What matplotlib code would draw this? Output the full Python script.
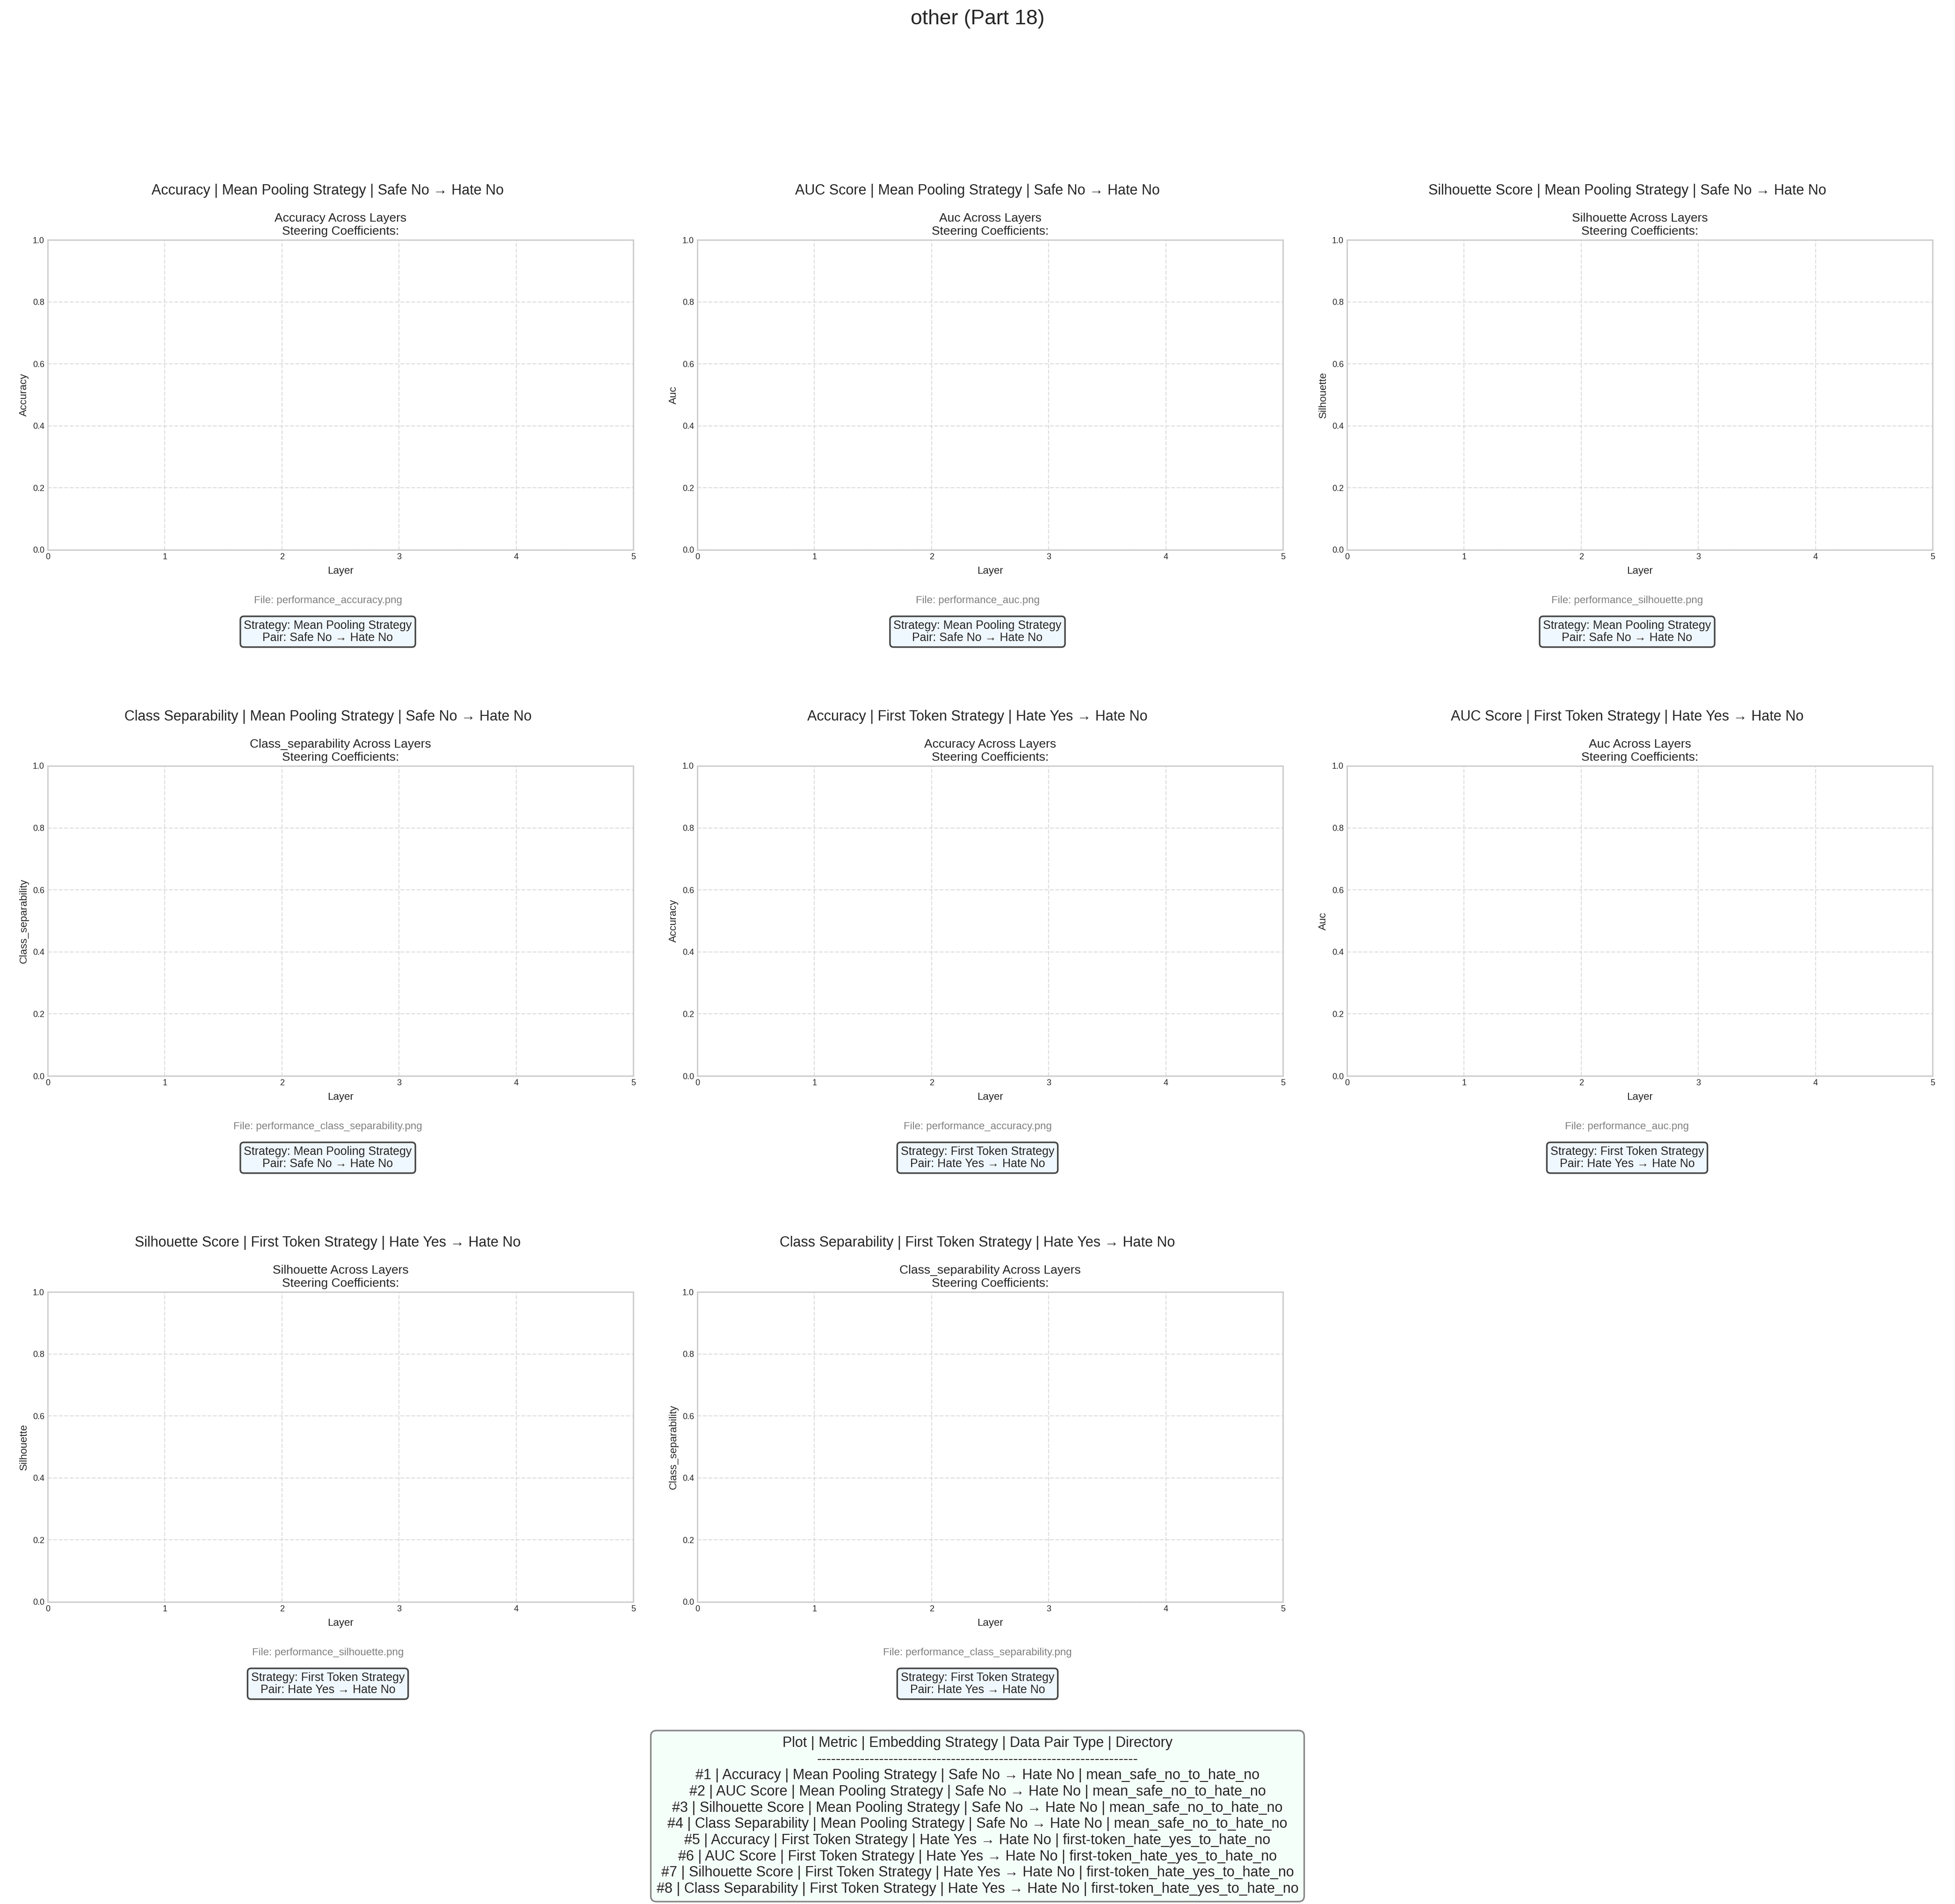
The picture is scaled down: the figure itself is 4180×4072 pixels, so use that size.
import matplotlib.pyplot as plt

plt.rcParams["font.family"] = ["Liberation Sans", "DejaVu Sans"]
plt.rcParams["text.color"] = "#262626"
plt.rcParams["axes.labelcolor"] = "#262626"
plt.rcParams["xtick.color"] = "#262626"
plt.rcParams["ytick.color"] = "#262626"

# panel content, in plot order
metric_names = ["Accuracy", "AUC Score", "Silhouette Score", "Class Separability",
                "Accuracy", "AUC Score", "Silhouette Score", "Class Separability"]
metric_keys = ["accuracy", "auc", "silhouette", "class_separability",
               "accuracy", "auc", "silhouette", "class_separability"]
strategies = ["Mean Pooling Strategy"] * 4 + ["First Token Strategy"] * 4
pairs = ["Safe No \u2192 Hate No"] * 4 + ["Hate Yes \u2192 Hate No"] * 4
directories = ["mean_safe_no_to_hate_no"] * 4 + ["first-token_hate_yes_to_hate_no"] * 4

layer_ticks = [0, 1, 2, 3, 4, 5]
y_ticks = [0.0, 0.2, 0.4, 0.6, 0.8, 1.0]

W, H = 4180, 4072
fig = plt.figure(figsize=(W / 200, H / 200), dpi=200)

col_left = [102, 1491, 2880]
row_top = [513, 1638, 2763]
ax_w, ax_h = 1252, 663

fig.text(0.5, 1 - 52 / H, "other (Part 18)", ha="center", va="baseline", fontsize=16)

for i in range(len(metric_names)):
    r, c = divmod(i, 3)
    left = col_left[c]
    top = row_top[r]
    ax = fig.add_axes([left / W, 1 - (top + ax_h) / H, ax_w / W, ax_h / H])
    key = metric_keys[i]
    label = key.capitalize()
    ax.set_xlim(layer_ticks[0], layer_ticks[-1])
    ax.set_ylim(y_ticks[0], y_ticks[-1])
    ax.set_xticks(layer_ticks)
    ax.set_yticks(y_ticks)
    ax.tick_params(length=0, pad=2.5, labelsize=6.5)
    ax.grid(True, color="#d6d6d6", linestyle="--", linewidth=0.8, alpha=0.8)
    for sp in ax.spines.values():
        sp.set_color("#cccccc")
        sp.set_linewidth(1.0)
    ax.set_xlabel("Layer", fontsize=8, labelpad=4)
    ax.set_ylabel(label, fontsize=8, labelpad=3)
    ax.set_title(f"{label} Across Layers\nSteering Coefficients:", fontsize=9.5, pad=4)

    cx = (left + ax_w / 2 - 27) / W
    fig.text(cx, 1 - (top - 97) / H,
             f"{metric_names[i]} | {strategies[i]} | {pairs[i]}",
             ha="center", va="baseline", fontsize=11)
    fig.text(cx, 1 - (top + 777) / H, f"File: performance_{key}.png",
             ha="center", va="baseline", fontsize=8, color="gray")
    fig.text(cx, 1 - (top + 838) / H,
             f"Strategy: {strategies[i]}\nPair: {pairs[i]}",
             ha="center", va="center", fontsize=9, linespacing=1.15,
             bbox=dict(boxstyle="round,pad=0.3", facecolor="#f0f8ff",
                       edgecolor="#444444", linewidth=1.2))

header = "Plot | Metric | Embedding Strategy | Data Pair Type | Directory"
rows = [f"#{i + 1} | {metric_names[i]} | {strategies[i]} | {pairs[i]} | {directories[i]}"
        for i in range(len(metric_names))]
table_text = "\n".join([header, "-" * 67] + rows)
fig.text(0.5, 1 - 3884 / H, table_text, ha="center", va="center", fontsize=11,
         linespacing=1.2,
         bbox=dict(boxstyle="round,pad=0.4", facecolor="#f5fffa",
                   edgecolor="#888888", linewidth=1.2))

fig.savefig("out.png", dpi=200)
